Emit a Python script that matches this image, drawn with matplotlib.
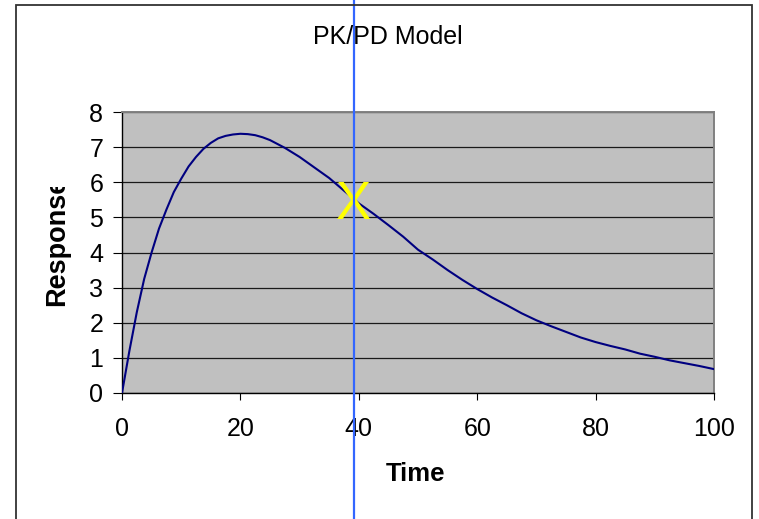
"""PK/PD response curve with a time cursor."""

import matplotlib
matplotlib.use("Agg")
import matplotlib.pyplot as plt
import matplotlib.transforms as mtransforms
from matplotlib.patches import Rectangle

plt.rcParams['font.family'] = ['Liberation Sans', 'DejaVu Sans']

# Model output (time, response)
time = [0, 1.25, 2.5, 3.75, 5, 6.25, 7.5, 8.75, 10, 11.25, 12.5, 13.75, 15,
        16.25, 17.5, 18.75, 20, 21.25, 22.5, 23.75, 25, 27.5, 30, 32.5, 35,
        37.5, 40, 42.5, 45, 47.5, 50, 52.5, 55, 57.5, 60, 62.5, 65, 67.5,
        70, 72.5, 75, 77.5, 80, 82.5, 85, 87.5, 90, 92.5, 95, 97.5, 100]
response = [0, 1.2, 2.3, 3.25, 4.0, 4.68, 5.22, 5.72, 6.1, 6.45, 6.72, 6.95,
            7.12, 7.25, 7.32, 7.36, 7.38, 7.37, 7.34, 7.28, 7.2, 6.98, 6.72,
            6.42, 6.12, 5.76, 5.4, 5.1, 4.78, 4.45, 4.08, 3.8, 3.5, 3.22,
            2.96, 2.72, 2.5, 2.27, 2.07, 1.9, 1.74, 1.58, 1.45, 1.34, 1.24,
            1.12, 1.03, 0.93, 0.85, 0.77, 0.68]

cursor_time = 39.2
marker_time = 39
marker_value = 5.5

x_ticks = [0, 20, 40, 60, 80, 100]
y_ticks = [0, 1, 2, 3, 4, 5, 6, 7, 8]

W, H = 759, 519
fig = plt.figure(figsize=(W / 100, H / 100), dpi=100)
ax = fig.add_axes([122 / W, 1 - 393 / H, (714 - 122) / W, (393 - 112) / H])
ax.set_facecolor('#c0c0c0')

ax.plot(time, response, color='#000080', linewidth=1.5, zorder=3)

ax.set_xlim(0, 100)
ax.set_ylim(0, 8)
ax.set_xticks(x_ticks)
ax.set_yticks(y_ticks)
ax.grid(axis='y', color='#1a1a1a', linewidth=0.9, zorder=1)
ax.set_axisbelow(True)
ax.tick_params(axis='x', direction='out', length=5, width=0.8, pad=12,
               labelsize=18, color='black')
ax.tick_params(axis='y', direction='out', length=6.5, width=0.8, pad=7,
               labelsize=18, color='black')
for side in ('top', 'right'):
    ax.spines[side].set_color('#808080')
    ax.spines[side].set_linewidth(1.4)
for side in ('left', 'bottom'):
    ax.spines[side].set_color('black')
    ax.spines[side].set_linewidth(1.0)

# yellow X at the cursor reading
ax.annotate('X', xy=(marker_time, marker_value), xytext=(0, -14),
            textcoords='offset points', ha='center', va='baseline',
            fontsize=38, color='#ffff00', zorder=4)

# titles
fig.text(387.5 / W, 1 - 37 / H, 'PK/PD Model', ha='center', va='center',
         fontsize=18)
fig.text(416 / W, 1 - 474 / H, 'Time', ha='center', va='center',
         fontsize=18.5, fontweight='bold')
ylab = fig.text(57 / W, 1 - 241 / H, 'Response', ha='center', va='center',
                rotation=90, fontsize=19.5, fontweight='bold')
clip = Rectangle((0, 0), 1, 1 - 187 / H, transform=fig.transFigure,
                 visible=False)
fig.add_artist(clip)
ylab.set_clip_path(clip)

# chart frame, open at the bottom
frame = Rectangle((16 / W, -0.1), (752 - 16) / W, 1.1 - 5 / H,
                  transform=fig.transFigure, fill=False, edgecolor='#333333',
                  linewidth=1.3)
fig.add_artist(frame)

# time cursor across the whole chart
trans = mtransforms.blended_transform_factory(ax.transData, fig.transFigure)
ax.plot([cursor_time, cursor_time], [0, 1], transform=trans, clip_on=False,
        color='#3366ff', linewidth=1.6, zorder=5)

fig.savefig('out.png', dpi=100, facecolor='white')
